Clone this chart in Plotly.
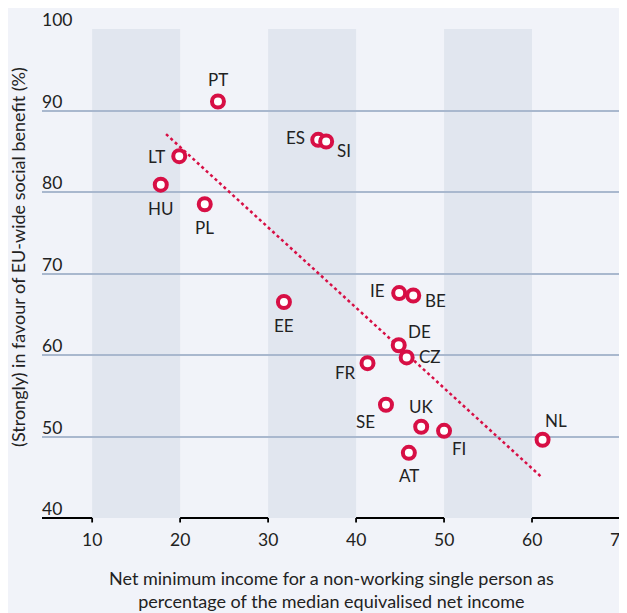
import plotly.graph_objects as go

countries = ["PT", "LT", "HU", "PL", "ES", "SI", "EE", "IE", "BE", "DE", "CZ", "FR", "SE", "UK", "FI", "AT", "NL"]
net_min_income = [24.3, 19.9, 17.8, 22.8, 35.7, 36.6, 31.8, 44.9, 46.5, 44.85, 45.75, 41.3, 43.4, 47.4, 50.0, 46.0, 61.2]
in_favour = [91.1, 84.4, 80.9, 78.5, 86.4, 86.2, 66.5, 67.6, 67.3, 61.2, 59.7, 59.0, 53.9, 51.2, 50.7, 48.0, 49.6]

trend_x = [18.4, 61.1]
trend_y = [87.1, 45.0]

x_ticks = [10, 20, 30, 40, 50, 60, 70]
y_ticks = [40, 50, 60, 70, 80, 90, 100]
band_starts = [10, 30, 50]
band_width = 10

# label offsets in pixels (x, y), styling only
label_offsets = {
    "PT": (0, 22, "center"), "LT": (-12, 0, "right"), "HU": (0, -24, "center"),
    "PL": (0, -23, "center"), "ES": (-11, 2, "right"), "SI": (9, -9, "left"),
    "EE": (0, -23, "center"), "IE": (-12, 3, "right"), "BE": (10, -5, "left"),
    "DE": (7, 14, "left"), "CZ": (10, 1, "left"), "FR": (-10, -9, "right"),
    "SE": (-9, -17, "right"), "UK": (0, 20, "center"), "FI": (6, -18, "left"),
    "AT": (0, -23, "center"), "NL": (0, 19, "left"),
}

FONT = "Lato"
RED = "#D70F45"
BG = "#F1F3F9"
BAND = "#E1E6EF"
GRID = "#A9B8CE"
TXT = "#222222"
XMIN, XMAX = 4.3, 70
PLOT_H = 489

fig = go.Figure()
fig.add_trace(go.Scatter(x=trend_x, y=trend_y, mode="lines",
                         line=dict(color=RED, width=2.5, dash="dot"),
                         hoverinfo="skip", showlegend=False))
fig.add_trace(go.Scatter(x=net_min_income, y=in_favour, mode="markers",
                         marker=dict(size=12, color="white", line=dict(color=RED, width=4)),
                         text=countries, showlegend=False))

shapes = []
for s in band_starts:
    shapes.append(dict(type="rect", xref="x", yref="y", x0=s, x1=s + band_width,
                       y0=y_ticks[0], y1=y_ticks[-1], fillcolor=BAND, line=dict(width=0), layer="below"))
# black baseline segments on unshaded columns
edges = [XMIN] + sorted([v for s in band_starts for v in (s, s + band_width)]) + [XMAX]
for i in range(0, len(edges) - 1, 2):
    shapes.append(dict(type="line", xref="x", yref="paper", x0=edges[i], x1=edges[i + 1],
                       y0=0, y1=0, line=dict(color="black", width=2.2), layer="above"))
for t in x_ticks:
    shapes.append(dict(type="line", xref="x", yref="paper", x0=t, x1=t,
                       y0=0, y1=-4.5 / PLOT_H, line=dict(color="black", width=1.8), layer="above"))

annotations = []
for c, x, y in zip(countries, net_min_income, in_favour):
    dx, dy, anch = label_offsets[c]
    annotations.append(dict(x=x, y=y, text=c, showarrow=False, xshift=dx, yshift=dy,
                            xanchor=anch, yanchor="middle",
                            font=dict(family=FONT, size=17, color=TXT)))
for t in y_ticks:
    annotations.append(dict(xref="paper", x=0, y=t, text=str(t), showarrow=False,
                            xanchor="left", yanchor="bottom", yshift=-3, xshift=-2,
                            font=dict(family=FONT, size=17.5, color=TXT)))
for t in x_ticks:
    annotations.append(dict(x=t, yref="paper", y=0, text=str(t), showarrow=False,
                            xanchor="center", yanchor="middle", yshift=-21,
                            font=dict(family=FONT, size=17.5, color=TXT)))
annotations.append(dict(xref="paper", yref="paper", x=-0.0415, y=0.534,
                        text="(Strongly) in favour of EU-wide social benefit (%)",
                        textangle=-90, showarrow=False, xanchor="center", yanchor="middle",
                        font=dict(family=FONT, size=18, color=TXT)))
annotations.append(dict(xref="paper", yref="paper", x=0.5, y=0, yshift=-47,
                        text="Net minimum income for a non-working single person as<br>percentage of the median equivalised net income",
                        showarrow=False, xanchor="center", yanchor="top",
                        font=dict(family=FONT, size=18, color=TXT)))

fig.update_layout(
    width=619, height=605,
    margin=dict(l=34, r=7, t=21, b=95),
    paper_bgcolor=BG, plot_bgcolor=BG,
    shapes=shapes, annotations=annotations,
    xaxis=dict(range=[XMIN, XMAX], tickvals=x_ticks, showgrid=False, zeroline=False,
               showline=False, ticks="", showticklabels=False),
    yaxis=dict(range=[y_ticks[0], y_ticks[-1]], tickvals=y_ticks, showgrid=True, gridcolor=GRID,
               gridwidth=1.5, zeroline=False, showline=False, showticklabels=False, ticks=""),
    font=dict(family=FONT, color=TXT),
)

fig.write_html("out.html")
